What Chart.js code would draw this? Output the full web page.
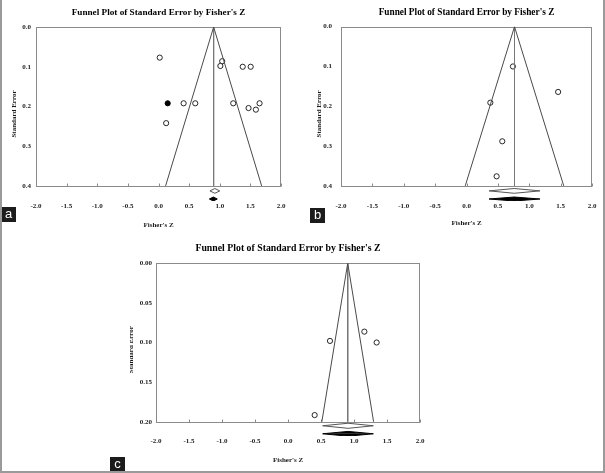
<!DOCTYPE html>
<html>
  <script src="https://cdn.jsdelivr.net/npm/chart.js@4.4.1/dist/chart.umd.min.js"></script>
  <style>
    body { margin: 0; background: #fff; }
    #fig { position: relative; width: 605px; height: 473px; overflow: hidden; background: #fff; }
    .panel { position: absolute; }
    .tag {
      position: absolute; width: 15px; height: 15px; background: #1c1c1c; color: #fff;
      font: 13px "Liberation Sans", Arial, sans-serif; line-height: 14px; text-align: center;
    }
    .edge { position: absolute; background: #9a9a9a; }
  </style>
  <body>
    <div id="fig">
      <div class="panel" style="left:0;top:0"><canvas id="chartA" width="300" height="238"></canvas></div>
      <div class="panel" style="left:300px;top:0"><canvas id="chartB" width="305" height="238"></canvas></div>
      <div class="panel" style="left:130px;top:235px"><canvas id="chartC" width="340" height="238"></canvas></div>
      <div class="tag" style="left:1px;top:207px">a</div>
      <div class="tag" style="left:310px;top:208px">b</div>
      <div class="tag" style="left:110px;top:457px">c</div>
      <div class="edge" style="left:0;top:0;width:2px;height:473px"></div>
      <div class="edge" style="left:603px;top:0;width:2px;height:473px"></div>
      <div class="edge" style="left:0;top:471px;width:605px;height:2px"></div>
    </div>

    <script>
      // panel a
      let aStudyZ = [0.02, 1.04, 1.01, 1.375, 1.505, 0.41, 0.60, 1.22, 1.65, 1.47, 1.59, 0.125];
      let aStudySE = [0.077, 0.086, 0.098, 0.100, 0.100, 0.192, 0.192, 0.192, 0.192, 0.204, 0.208, 0.242];
      let aImputedZ = [0.15];
      let aImputedSE = [0.192];
      let aFunnelZ = [0.116, 0.90, 1.684];
      let aFunnelSE = [0.4, 0, 0.4];
      let aObserved = [0.84, 0.92, 1.00];   // lower, estimate, upper
      let aAdjusted = [0.83, 0.895, 0.96];

      // panel b
      let bStudyZ = [0.74, 1.46, 0.38, 0.57, 0.48];
      let bStudySE = [0.100, 0.164, 0.191, 0.288, 0.376];
      let bFunnelZ = [-0.02, 0.765, 1.55];
      let bFunnelSE = [0.4, 0, 0.4];
      let bObserved = [0.36, 0.76, 1.17];
      let bAdjusted = [0.36, 0.76, 1.17];

      // panel c
      let cStudyZ = [0.636, 1.157, 1.343, 0.404];
      let cStudySE = [0.098, 0.0863, 0.100, 0.1916];
      let cFunnelZ = [0.513, 0.905, 1.297];
      let cFunnelSE = [0.2, 0, 0.2];
      let cObserved = [0.525, 0.91, 1.293];
      let cAdjusted = [0.525, 0.91, 1.293];

      let xTicks = [-2.0, -1.5, -1.0, -0.5, 0.0, 0.5, 1.0, 1.5, 2.0];

      const serif = '"Liberation Serif", "Times New Roman", serif';
      const ink = "#1a1a1a";

      function pts(xs, ys) {
        return xs.map((x, i) => ({ x: x, y: ys[i] }));
      }

      // plot frame + small tick marks on the bottom axis, drawn only down to the SE limit
      const framePlugin = {
        id: "frame",
        beforeDatasetsDraw(chart, args, opts) {
          const { ctx, chartArea, scales } = chart;
          const top = Math.round(scales.y.getPixelForValue(0)) + 0.5;
          const bot = Math.round(scales.y.getPixelForValue(opts.limit)) + 0.5;
          const left = Math.round(chartArea.left) + 0.5;
          const right = Math.round(chartArea.right) - 0.5;
          ctx.save();
          ctx.strokeStyle = "#8a8a8a";
          ctx.lineWidth = 1;
          ctx.strokeRect(left, top, right - left, bot - top);
          scales.x.ticks.forEach((t, i) => {
            const px = Math.round(scales.x.getPixelForTick(i)) + 0.5;
            ctx.beginPath();
            ctx.moveTo(px, bot);
            ctx.lineTo(px, bot - 3);
            ctx.stroke();
          });
          ctx.restore();
        },
      };

      function diamond(ci, row, half, filled) {
        if (!filled) {
          return [{
            data: [
              { x: ci[0], y: row }, { x: ci[1], y: row - half }, { x: ci[2], y: row },
              { x: ci[1], y: row + half }, { x: ci[0], y: row },
            ],
            showLine: true, borderColor: "#555", borderWidth: 1, pointRadius: 0, fill: false,
          }];
        }
        return [
          {
            data: [{ x: ci[0], y: row }, { x: ci[1], y: row - half }, { x: ci[2], y: row }],
            showLine: true, borderColor: "#000", borderWidth: 1, pointRadius: 0,
            backgroundColor: "#000", fill: { value: row },
          },
          {
            data: [{ x: ci[0], y: row }, { x: ci[1], y: row + half }, { x: ci[2], y: row }],
            showLine: true, borderColor: "#000", borderWidth: 1, pointRadius: 0,
            backgroundColor: "#000", fill: { value: row },
          },
        ];
      }

      function funnelChart(id, p) {
        let datasets = [
          {
            data: pts(p.funnelZ, p.funnelSE),
            showLine: true, borderColor: "#4a4a4a", borderWidth: 1, pointRadius: 0, fill: false,
          },
          {
            data: [{ x: p.funnelZ[1], y: 0 }, { x: p.funnelZ[1], y: p.limit }],
            showLine: true, borderColor: "#777", borderWidth: 1, pointRadius: 0, fill: false,
          },
          {
            data: pts(p.studyZ, p.studySE),
            showLine: false, pointStyle: "circle", pointRadius: 2.6,
            pointBorderColor: "#111", pointBackgroundColor: "#fff", pointBorderWidth: 0.9,
          },
        ];
        if (p.imputedZ) {
          datasets.push({
            data: pts(p.imputedZ, p.imputedSE),
            showLine: false, pointStyle: "circle", pointRadius: 2.6,
            pointBorderColor: "#000", pointBackgroundColor: "#000", pointBorderWidth: 0.9,
          });
        }
        datasets = datasets
          .concat(diamond(p.observed, p.rows[0], p.halves[0], false))
          .concat(diamond(p.adjusted, p.rows[1], p.halves[1], true));

        return new Chart(document.getElementById(id), {
          type: "line",
          data: { datasets: datasets },
          plugins: [framePlugin],
          options: {
            responsive: false,
            animation: false,
            elements: { line: { tension: 0 } },
            layout: { padding: { left: 0, right: p.padRight, top: 0, bottom: 0 } },
            plugins: {
              legend: { display: false },
              tooltip: { enabled: false },
              frame: { limit: p.limit },
              title: {
                display: true,
                fullSize: false,
                text: "Funnel Plot of Standard Error by Fisher's Z",
                color: "#000",
                font: { family: serif, size: p.titleSize, weight: "bold" },
                padding: p.titlePad,
              },
            },
            scales: {
              x: {
                type: "linear",
                min: -2,
                max: 2,
                afterBuildTicks: (s) => { s.ticks = xTicks.map((v) => ({ value: v })); },
                afterFit: (s) => { s.height = p.xHeight; },
                grid: { display: false, drawTicks: false, tickLength: 0 },
                border: { display: false },
                ticks: {
                  autoSkip: false, maxRotation: 0, padding: 1, color: ink,
                  font: { family: serif, size: 7, weight: "bold" },
                  callback: (v) => Number(v).toFixed(1),
                },
                title: {
                  display: true, text: "Fisher's Z", color: ink,
                  font: { family: serif, size: 7, weight: "bold" },
                  padding: { top: 0, bottom: p.xTitlePad },
                },
              },
              y: {
                type: "linear",
                reverse: true,
                min: 0,
                max: p.yMax,
                afterBuildTicks: (s) => { s.ticks = s.ticks.filter((t) => t.value <= p.limit + 1e-9); },
                afterFit: (s) => { s.width = p.yWidth; },
                grid: { display: false, drawTicks: false, tickLength: 0 },
                border: { display: false },
                ticks: {
                  stepSize: p.step, padding: p.yTickPad, color: ink,
                  font: { family: serif, size: 7, weight: "bold" },
                  callback: (v) => Number(v).toFixed(p.decimals),
                },
                title: {
                  display: true, text: "Standard Error", color: ink,
                  font: { family: serif, size: 7, weight: "bold" },
                  padding: { top: p.yTitlePad, bottom: 0 },
                },
              },
            },
          },
        });
      }

      funnelChart("chartA", {
        studyZ: aStudyZ, studySE: aStudySE, imputedZ: aImputedZ, imputedSE: aImputedSE,
        funnelZ: aFunnelZ, funnelSE: aFunnelSE, observed: aObserved, adjusted: aAdjusted,
        rows: [0.4126, 0.433], halves: [0.006, 0.005],
        limit: 0.4, yMax: 0.438, step: 0.1, decimals: 1,
        padRight: 19, yWidth: 36, xHeight: 37, yTickPad: 5, yTitlePad: 9.8, xTitlePad: 8.8,
        titleSize: 9.2, titlePad: { top: 7.5, bottom: 8.5 },
      });

      funnelChart("chartB", {
        studyZ: bStudyZ, studySE: bStudySE,
        funnelZ: bFunnelZ, funnelSE: bFunnelSE, observed: bObserved, adjusted: bAdjusted,
        rows: [0.4126, 0.433], halves: [0.006, 0.005],
        limit: 0.4, yMax: 0.438, step: 0.1, decimals: 1,
        padRight: 13, yWidth: 41, xHeight: 37, yTickPad: 9, yTitlePad: 14.8, xTitlePad: 10.8,
        titleSize: 9.3, titlePad: { top: 7, bottom: 8.5 },
      });

      funnelChart("chartC", {
        studyZ: cStudyZ, studySE: cStudySE,
        funnelZ: cFunnelZ, funnelSE: cFunnelSE, observed: cObserved, adjusted: cAdjusted,
        rows: [0.2051, 0.2152], halves: [0.0032, 0.003],
        limit: 0.2, yMax: 0.218, step: 0.05, decimals: 2,
        padRight: 50, yWidth: 26, xHeight: 37, yTickPad: 4, yTitlePad: -3.2, xTitlePad: 8.8,
        titleSize: 9.8, titlePad: { top: 7.5, bottom: 9 },
      });
    </script>
  </body>
</html>
